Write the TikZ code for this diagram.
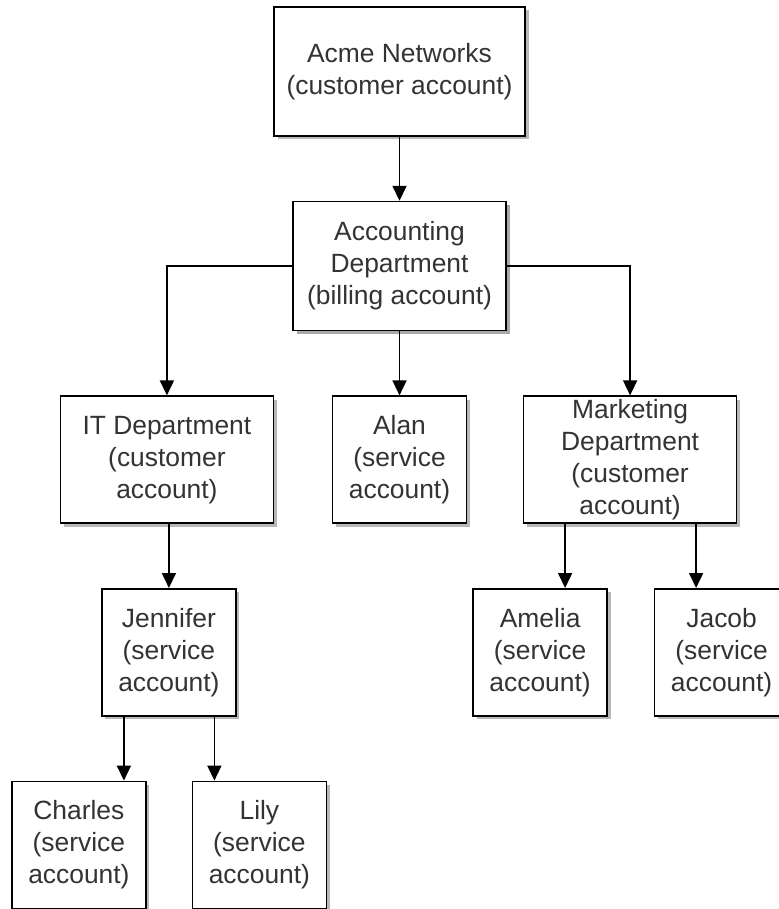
\documentclass[tikz,border=0pt]{standalone}
\usepackage{fontspec}
\setmainfont{Liberation Sans}
\usepackage{tikz}
\usetikzlibrary{arrows.meta, positioning, shadows}

\begin{document}
\begin{tikzpicture}[
    font=\fontsize{26.4pt}{32pt}\selectfont,
    box/.style={draw, line width=1.6pt, align=center, fill=white, text=black!80,
                inner sep=0pt, minimum height=127pt,
                drop shadow={shadow xshift=3.5pt, shadow yshift=-3.5pt,
                             fill=black!35, opacity=0.8}},
    tallbox/.style={box, minimum height=129pt},
    widebox/.style={box, minimum width=213pt},
    smallbox/.style={box, minimum width=134pt},
    arr/.style={-{Triangle[length=15pt, width=14pt]}, line width=1.6pt},
    node distance=64pt and 16pt
]
\useasboundingbox (0,0) rectangle (778pt,-909pt);

%% ---- top of the tree ------------------------------------------
\node[tallbox, minimum width=251pt] (acme) at (399.5pt,-71.5pt)
    {Acme Networks\\(customer account)};
\node[widebox, tallbox, below=of acme] (acct) {Accounting\\Department\\(billing account)};

\draw[arr] (acme) -- (acct);

%% ---- departments ----------------------------------------------
\node[widebox, below left=64pt and 18pt of acct]  (itdept) {IT Department\\(customer\\account)};
\node[smallbox, below=of acct]                    (alan)   {Alan\\(service\\account)};
\node[widebox, below right=64pt and 16pt of acct] (mkt)    {Marketing\\Department\\(customer\\account)};

\draw[arr] (acct.west) -| (itdept.north);
\draw[arr] (acct)      -- (alan);
\draw[arr] (acct.east) -| (mkt.north);

%% ---- service accounts -----------------------------------------
\node[smallbox, below=of itdept, xshift=2pt] (jennifer) {Jennifer\\(service\\account)};
\node[smallbox, below=of jennifer, xshift=-90pt] (charles) {Charles\\(service\\account)};
\node[smallbox, below=of jennifer, xshift=90.5pt] (lily)   {Lily\\(service\\account)};
\node[smallbox, below=of mkt, xshift=-90pt]   (amelia) {Amelia\\(service\\account)};
\node[smallbox, below=of mkt, xshift=91.5pt]  (jacob)  {Jacob\\(service\\account)};

\draw[arr] (jennifer.north |- itdept.south) -- (jennifer.north);
\draw[arr] ([xshift=-45pt]jennifer.south) -- ([xshift=-45pt]jennifer.south |- charles.north);
\draw[arr] ([xshift=45.5pt]jennifer.south) -- ([xshift=45.5pt]jennifer.south |- lily.north);
\draw[arr] ([xshift=-65pt]mkt.south) -- ([xshift=-65pt]mkt.south |- amelia.north);
\draw[arr] ([xshift=66pt]mkt.south)  -- ([xshift=66pt]mkt.south |- jacob.north);

\end{tikzpicture}
\end{document}
